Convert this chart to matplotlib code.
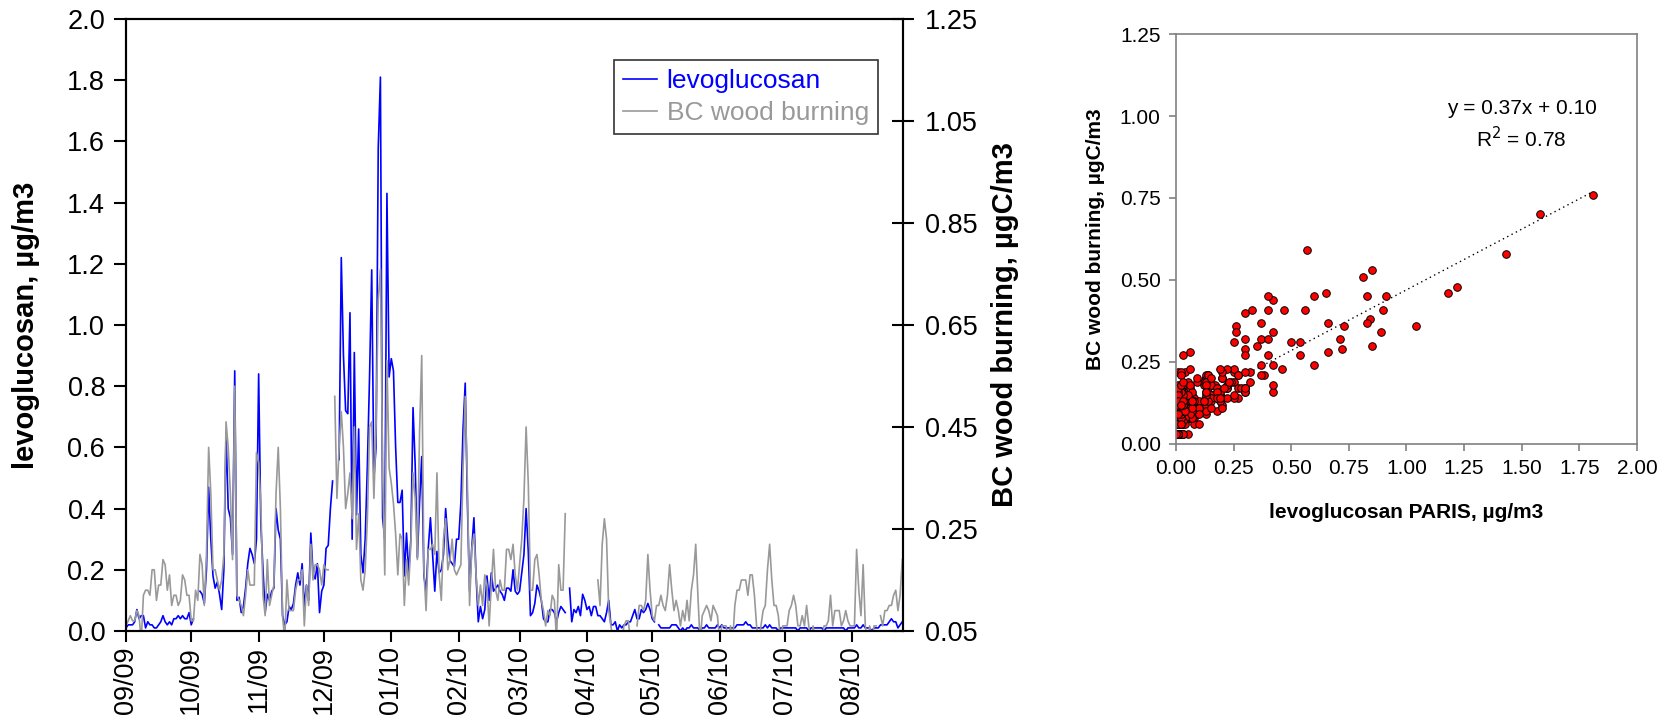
import numpy as np
import pandas as pd
import matplotlib
matplotlib.use('Agg')
import matplotlib.pyplot as plt
import matplotlib.dates as mdates
from matplotlib.ticker import MultipleLocator, FormatStrFormatter

plt.rcParams['font.family'] = ['Liberation Sans', 'DejaVu Sans']
nan = np.nan

# daily values, 1 Sep 2009 -> 24 Aug 2010
# levoglucosan (ug/m3)
levo_sep = [0.01, 0.02, 0.02, 0.02, 0.03, 0.07, 0.04, 0.05, 0.05, 0.01, 0.03, 0.02, 0.02, 0.01, 0.01,
            0.02, 0.03, 0.05, 0.03, 0.02, 0.03, 0.02, 0.04, 0.04, 0.05, 0.04, 0.05, 0.04, 0.04, 0.06]
levo_oct = [0.02, 0.04, nan, nan, 0.13, 0.12, 0.09, 0.20, 0.47, 0.30, 0.18, 0.14, 0.16, 0.12, 0.07, 0.20,
            0.65, 0.40, 0.37, 0.25, 0.85, 0.10, 0.11, 0.06, 0.08, 0.14, 0.22, 0.27, 0.25, 0.22, 0.30]
levo_nov = [0.84, 0.35, 0.20, 0.06, 0.12, 0.10, 0.13, 0.14, 0.40, 0.33, 0.30, 0.05, 0.02, 0.03, 0.08,
            0.07, 0.09, 0.15, 0.19, 0.15, 0.22, 0.08, 0.15, 0.10, 0.32, 0.19, 0.17, 0.22, 0.06, 0.13]
levo_dec = [0.15, 0.27, 0.28, 0.40, 0.49, nan, nan, 0.56, 1.22, 0.90, 0.72, 0.71, 1.04, 0.30, 0.91, 0.38,
            0.66, 0.25, 0.19, 0.30, 0.54, 0.83, 1.18, 0.50, 0.60, 1.58, 1.81, 0.37, 0.30, 1.43, 0.83]
levo_jan = [0.89, 0.85, 0.60, 0.42, 0.42, 0.46, 0.18, 0.32, 0.19, 0.30, 0.73, 0.54, 0.24, 0.42, 0.57, 0.18,
            0.13, 0.27, 0.37, 0.25, 0.13, 0.26, 0.19, 0.20, 0.25, 0.40, 0.30, 0.23, 0.22, 0.21, 0.30]
levo_feb = [0.30, 0.42, 0.66, 0.81, 0.42, 0.13, 0.27, 0.37, 0.18, 0.03, 0.08, 0.04, 0.07, 0.18, 0.10,
            0.19, 0.13, 0.14, 0.15, 0.13, 0.12, 0.10, 0.14, 0.14, 0.13, 0.20, 0.13, 0.12]
levo_mar = [0.13, 0.19, 0.25, 0.40, 0.26, 0.05, 0.06, 0.09, 0.15, 0.13, 0.10, 0.04, 0.03, 0.03, 0.07, 0.07,
            0.06, 0.03, 0.06, 0.08, 0.07, 0.06, nan, 0.14, 0.03, 0.07, 0.06, 0.08, 0.05, 0.12, 0.10]
levo_apr = [0.07, 0.08, 0.05, 0.08, 0.08, 0.05, 0.05, 0.04, 0.03, 0.06, 0.10, 0.02, 0.02, 0.03, 0.00,
            0.02, 0.01, 0.02, 0.02, 0.03, 0.03, 0.05, 0.07, 0.04, 0.04, 0.07, 0.06, 0.07, 0.09, 0.07]
levo_may = [0.04, 0.03, nan, 0.02, 0.01, 0.01, 0.01, 0.01, 0.01, 0.02, 0.02, 0.02, 0.01, 0.00, 0.01, 0.00,
            0.01, 0.01, 0.02, 0.01, 0.01, 0.01, 0.00, 0.01, 0.01, 0.02, 0.01, 0.01, 0.01, 0.01, 0.02]
levo_jun = [0.01, 0.02, 0.01, 0.01, 0.01, 0.01, 0.01, 0.01, 0.02, 0.02, 0.02, 0.02, 0.03, 0.02, 0.02,
            0.01, 0.01, 0.01, 0.01, 0.01, 0.01, 0.02, 0.01, 0.02, 0.01, 0.01, 0.01, 0.00, 0.01, 0.01]
levo_jul = [0.01, 0.01, 0.01, 0.01, 0.01, 0.01, 0.00, 0.01, 0.01, 0.01, 0.01, 0.00, 0.01, 0.01, 0.01, 0.01,
            0.01, 0.01, 0.00, 0.01, 0.01, 0.01, 0.01, 0.01, 0.01, 0.01, 0.01, 0.01, 0.00, 0.01, 0.01]
levo_aug = [0.01, 0.01, 0.02, 0.01, 0.01, 0.02, 0.01, 0.01, 0.01, 0.00, 0.01, 0.01, 0.01, 0.02, 0.02, 0.02,
            0.02, 0.03, 0.04, 0.03, 0.03, 0.01, 0.02, 0.03]

# BC wood burning (ugC/m3)
bc_sep = [0.06, 0.07, 0.08, 0.07, 0.07, 0.09, 0.08, 0.03, 0.12, 0.13, 0.13, 0.12, 0.17, 0.17, 0.11,
          0.14, 0.14, 0.19, 0.18, 0.13, 0.16, 0.10, 0.12, 0.12, 0.10, 0.11, 0.16, 0.15, 0.12, 0.12]
bc_oct = [0.07, 0.07, 0.13, 0.11, 0.20, 0.18, 0.10, 0.20, 0.41, 0.32, 0.17, 0.17, 0.15, 0.13, 0.15, 0.20,
          0.46, 0.41, 0.32, 0.19, 0.53, 0.12, 0.11, 0.10, 0.08, 0.12, 0.17, 0.14, 0.14, 0.14, 0.40]
bc_nov = [0.38, 0.30, 0.12, 0.08, 0.19, 0.10, 0.12, 0.14, 0.32, 0.41, 0.29, 0.08, 0.03, 0.15, 0.09,
          0.09, 0.09, 0.13, 0.15, 0.15, 0.17, 0.06, 0.14, 0.10, 0.22, 0.15, 0.18, 0.18, 0.17, 0.14]
bc_dec = [0.18, 0.17, 0.17, nan, nan, 0.51, 0.31, 0.41, 0.48, 0.41, 0.29, 0.32, 0.36, 0.27, 0.45, 0.21,
          0.28, 0.15, 0.13, 0.17, 0.27, 0.45, 0.46, 0.31, 0.45, 0.70, 0.76, 0.37, 0.16, 0.58, 0.37]
bc_jan = [0.34, 0.30, 0.24, 0.16, 0.24, 0.23, 0.10, 0.19, 0.14, 0.22, 0.36, 0.31, 0.19, 0.44, 0.59, 0.17,
          0.09, 0.21, 0.21, 0.22, 0.20, 0.36, 0.16, 0.11, 0.23, 0.27, 0.17, 0.19, 0.23, 0.17, 0.16]
bc_feb = [0.17, 0.18, 0.37, 0.51, 0.34, 0.10, 0.21, 0.24, 0.16, 0.10, 0.14, 0.10, 0.16, 0.14, 0.06,
          0.14, 0.21, 0.13, 0.11, 0.15, 0.13, 0.13, 0.21, 0.21, 0.19, 0.22, 0.16, 0.13]
bc_mar = [0.18, 0.23, 0.31, 0.45, 0.34, 0.13, 0.13, 0.19, 0.20, 0.16, 0.11, 0.09, 0.06, 0.09, 0.08, 0.12,
          0.11, 0.03, 0.18, 0.13, 0.13, 0.28, nan, nan, nan, nan, nan, nan, nan, nan, nan]
bc_apr = [nan, nan, nan, nan, nan, 0.15, 0.10, 0.22, 0.27, 0.23, 0.09, 0.06, 0.03, nan, nan,
          nan, 0.03, 0.06, 0.07, 0.07, 0.03, nan, nan, 0.06, 0.10, 0.10, 0.09, 0.11, 0.20, 0.13]
bc_may = [0.08, 0.07, 0.10, 0.10, 0.12, 0.10, 0.09, 0.12, 0.18, 0.13, 0.09, 0.11, 0.09, 0.06, 0.09, 0.07,
          0.11, 0.07, 0.13, 0.16, 0.22, 0.12, 0.03, 0.08, 0.09, 0.10, 0.09, 0.07, 0.10, 0.09, 0.08]
bc_jun = [0.03, 0.06, 0.06, 0.06, 0.03, 0.06, 0.03, 0.10, 0.13, 0.13, 0.15, 0.15, 0.15, 0.12, 0.16,
          0.16, 0.12, 0.06, 0.03, 0.06, 0.09, 0.10, 0.17, 0.22, 0.15, 0.10, 0.10, 0.08, 0.03, 0.06]
bc_jul = [0.06, 0.06, 0.09, 0.10, 0.12, 0.10, 0.06, 0.06, 0.08, 0.06, 0.10, 0.06, 0.03, 0.06, 0.03, 0.03,
          0.03, 0.03, 0.06, 0.06, 0.07, 0.12, 0.06, 0.09, 0.09, 0.09, 0.06, 0.07, 0.09, 0.07, 0.06]
bc_aug = [0.06, 0.06, 0.21, 0.13, 0.08, 0.18, 0.06, 0.03, 0.06, 0.03, 0.06, 0.06, nan, 0.08, 0.06, 0.09,
          0.09, 0.10, 0.10, 0.12, 0.13, 0.09, 0.12, 0.19]

levo = np.array(levo_sep + levo_oct + levo_nov + levo_dec + levo_jan + levo_feb +
                levo_mar + levo_apr + levo_may + levo_jun + levo_jul + levo_aug)
bc = np.array(bc_sep + bc_oct + bc_nov + bc_dec + bc_jan + bc_feb +
              bc_mar + bc_apr + bc_may + bc_jun + bc_jul + bc_aug)
dates = pd.date_range('2009-09-01', periods=len(levo), freq='D')

# regression shown on the scatter
slope = 0.37
intercept = 0.10
r2 = 0.78

fig = plt.figure(figsize=(16.69, 7.25), dpi=100)

# ---- time series ----
ax = fig.add_axes([0.0755, 0.1297, 0.4655, 0.8441])
ax2 = ax.twinx()
l1, = ax.plot(dates, levo, color='#0000FF', lw=1.2, label='levoglucosan')
l2, = ax2.plot(dates, bc, color='#999999', lw=1.2, label='BC wood burning')

ax.set_xlim(dates[0], dates[0] + pd.Timedelta(days=357.3))
ax.set_ylim(0, 2.0)
ax.yaxis.set_major_locator(MultipleLocator(0.2))
ax.yaxis.set_major_formatter(FormatStrFormatter('%.1f'))
ax2.set_ylim(0.05, 1.25)
ax2.set_yticks(np.arange(0.05, 1.26, 0.2))
ax2.yaxis.set_major_formatter(FormatStrFormatter('%.2f'))

ax.xaxis.set_major_locator(mdates.MonthLocator(bymonthday=1))
ax.xaxis.set_major_formatter(mdates.DateFormatter('%m/%y'))
ax.tick_params(axis='x', rotation=90, labelsize=19.5, length=8, width=1.5, direction='out', pad=3)
ax.tick_params(axis='y', labelsize=19.5, length=9, width=1.5, direction='out', pad=6)
ax2.tick_params(axis='y', labelsize=19.5, length=16, width=1.5, direction='inout', pad=8)
for a in (ax, ax2):
    for s in a.spines.values():
        s.set_linewidth(1.5)

ax.set_ylabel('levoglucosan, µg/m3', fontsize=21, fontweight='bold')
ax.yaxis.set_label_coords(-0.111, 0.5)
ax2.set_ylabel('BC wood burning, µgC/m3', fontsize=21, fontweight='bold')
ax2.yaxis.set_label_coords(1.113, 0.5)

leg = ax2.legend(handles=[l1, l2], loc='upper right', bbox_to_anchor=(0.968, 0.933),
                 borderaxespad=0, fontsize=19, frameon=True, fancybox=False, handlelength=1.3,
                 borderpad=0.35, labelspacing=0.3, handletextpad=0.35)
leg.get_frame().set_edgecolor('black')
leg.get_frame().set_linewidth(1.2)
for t, c in zip(leg.get_texts(), ['#0000FF', '#999999']):
    t.set_color(c)

# ---- scatter ----
narrow = ['Liberation Sans Narrow', 'Liberation Sans', 'DejaVu Sans']
bx = fig.add_axes([0.7046, 0.3876, 0.2762, 0.5655])
ok = ~np.isnan(levo) & ~np.isnan(bc)
xs = np.linspace(0, np.nanmax(levo), 50)
bx.plot(xs, slope * xs + intercept, color='black', lw=1, ls=(0, (1, 2.5)), zorder=1)
bx.scatter(levo[ok], bc[ok], s=30, facecolor='#FF0000', edgecolor='black', linewidth=0.7, zorder=2)
bx.set_xlim(0, 2.0)
bx.set_ylim(0, 1.25)
bx.xaxis.set_major_locator(MultipleLocator(0.25))
bx.yaxis.set_major_locator(MultipleLocator(0.25))
bx.xaxis.set_major_formatter(FormatStrFormatter('%.2f'))
bx.yaxis.set_major_formatter(FormatStrFormatter('%.2f'))
bx.tick_params(length=5, width=1.2, color='#808080', labelsize=15, pad=6)
for lab in bx.get_xticklabels() + bx.get_yticklabels():
    lab.set_family(narrow)
for s in bx.spines.values():
    s.set_color('#808080')
    s.set_linewidth(1.2)
bx.set_xlabel('levoglucosan PARIS, µg/m3', fontsize=15, fontweight='bold')
bx.xaxis.set_label_coords(0.5, -0.143)
bx.set_ylabel('BC wood burning, µgC/m3', fontsize=15, fontweight='bold')
bx.yaxis.set_label_coords(-0.154, 0.5)
bx.text(1.50, 1.022, 'y = %.2fx + %.2f' % (slope, intercept), ha='center', va='center',
        fontsize=15, family=narrow)
bx.text(1.50, 0.932, 'R$^2$ = %.2f' % r2, ha='center', va='center', fontsize=15, family=narrow)

fig.savefig('out.png', dpi=100)
